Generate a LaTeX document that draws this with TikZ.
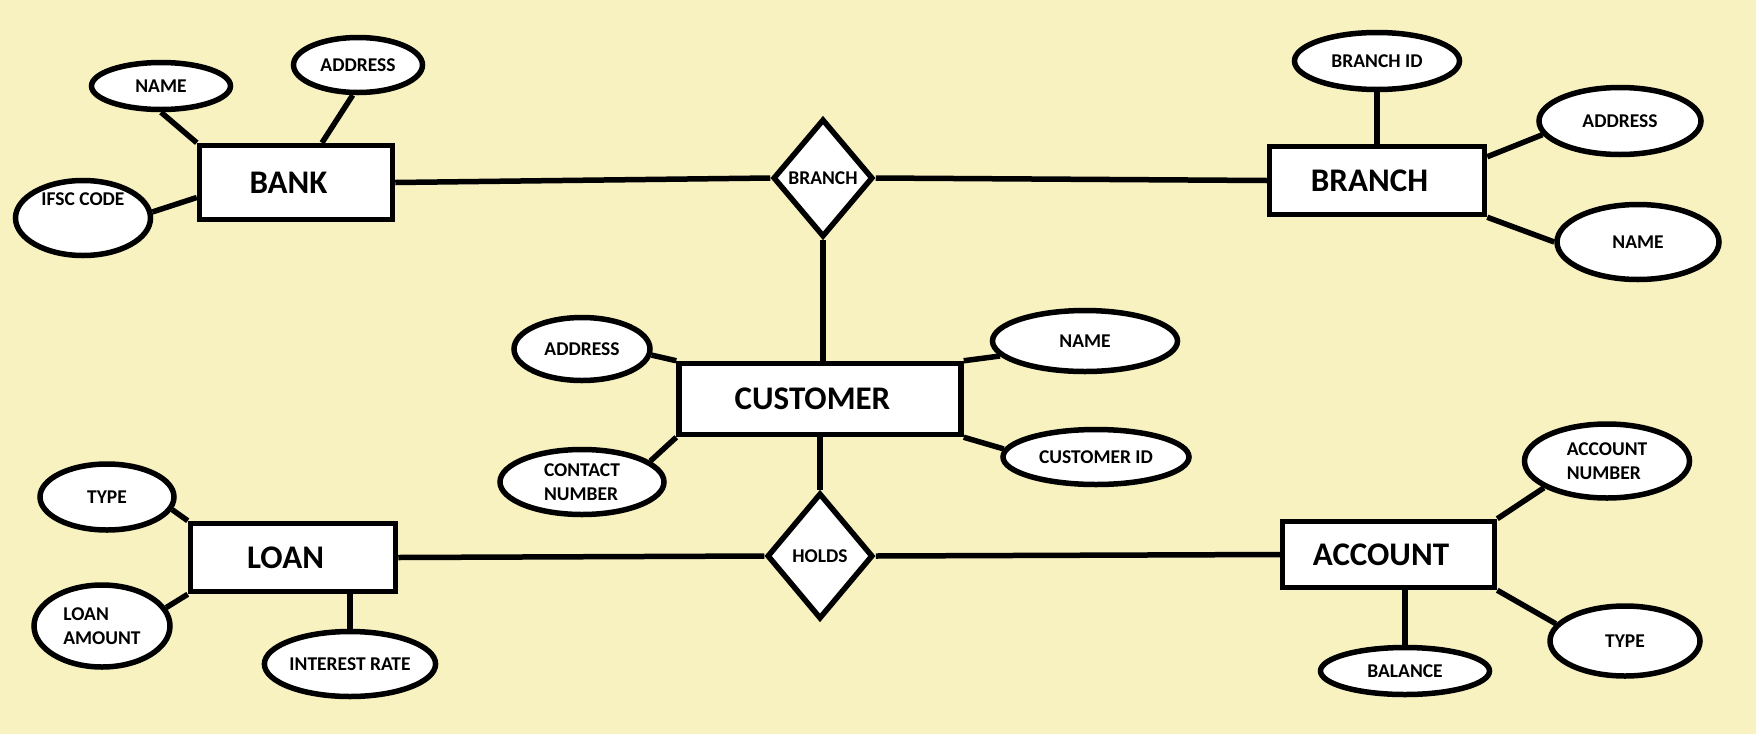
\documentclass[tikz,border=0pt]{standalone}
\usepackage{fontspec}
\setmainfont{Carlito}
\usetikzlibrary{shapes.geometric}
\definecolor{paper}{RGB}{248,242,192}

\tikzset{
  er/.style={line width=5.5pt, draw=black, fill=white, inner sep=0pt},
  entity/.style={er, rectangle, font=\fontsize{33}{40}\selectfont\bfseries,
                 execute at begin node=\hspace*{-15pt}},
  attr/.style={er, ellipse, font=\fontsize{19.5}{24}\selectfont\bfseries, align=left},
  rel/.style={er, diamond, font=\fontsize{19.5}{24}\selectfont\bfseries},
  link/.style={line width=5.5pt, draw=black},
}

\begin{document}
\begin{tikzpicture}[x=1pt, y=-1pt]
  \fill[paper] (0,0) rectangle (1756,734);
  \useasboundingbox (0,0) rectangle (1756,734);

  % entities
  \node[entity, minimum width=193pt, minimum height=74pt] (bank)   at (296,182.5) {BANK};
  \node[entity, minimum width=215pt, minimum height=68pt] (branch) at (1377,180.5) {BRANCH};
  \node[entity, minimum width=282pt, minimum height=71pt] (cust)   at (820,399) {CUSTOMER};
  \node[entity, minimum width=205pt, minimum height=68pt] (loan)   at (293,557.5) {LOAN};
  \node[entity, minimum width=212pt, minimum height=66pt] (acc)    at (1388.5,554.5) {ACCOUNT};

  % relationships
  \node[rel, minimum width=100pt, minimum height=118pt] (relbr) at (823,178) {BRANCH};
  \node[rel, minimum width=106pt, minimum height=126pt] (holds) at (820,556) {HOLDS};

  % attributes of BANK
  \node[attr, minimum width=139pt, minimum height=47pt] (bname) at (161,86) {NAME};
  \node[attr, minimum width=129pt, minimum height=55pt] (baddr) at (358,65) {ADDRESS};
  \node[attr, minimum width=135pt, minimum height=75pt,
        label={[font=\fontsize{19.5}{24}\selectfont\bfseries, yshift=19pt]center:IFSC CODE}] (ifsc) at (83,218) {};

  % attributes of BRANCH
  \node[attr, minimum width=165pt, minimum height=57pt] (brid)   at (1377,61) {BRANCH ID};
  \node[attr, minimum width=162pt, minimum height=67pt] (braddr) at (1620,121) {ADDRESS};
  \node[attr, minimum width=162pt, minimum height=75pt] (brname) at (1638,242) {NAME};

  % attributes of CUSTOMER
  \node[attr, minimum width=136pt, minimum height=63pt] (caddr)    at (582,349) {ADDRESS};
  \node[attr, minimum width=185pt, minimum height=61pt] (cname)    at (1085,341) {NAME};
  \node[attr, minimum width=186pt, minimum height=55pt] (cid)      at (1096,457) {CUSTOMER ID};
  \node[attr, minimum width=164pt, minimum height=65pt] (ccontact) at (582,482) {CONTACT\\NUMBER};

  % attributes of LOAN
  \node[attr, minimum width=134pt, minimum height=66pt] (ltype) at (107,497) {TYPE};
  \node[attr, minimum width=136pt, minimum height=82pt] (lamt)  at (102,626) {LOAN\\AMOUNT};
  \node[attr, minimum width=158pt, minimum height=65pt] (lint)  at (350,664) {INTEREST RATE};

  % attributes of ACCOUNT
  \node[attr, minimum width=165pt, minimum height=74pt] (accnum)  at (1607,461) {ACCOUNT\\NUMBER};
  \node[attr, minimum width=150pt, minimum height=70pt] (acctype) at (1625,641) {TYPE};
  \node[attr, minimum width=169pt, minimum height=47pt] (bal)     at (1405,671) {BALANCE};

  % relationship lines
  \draw[link] (bank.east) -- (relbr.west);
  \draw[link] (relbr.east) -- (branch.west);
  \draw[link] (relbr.south) -- (relbr.south |- cust.north);
  \draw[link] (cust.south) -- (holds.north);
  \draw[link] (loan.east) -- (holds.west);
  \draw[link] (holds.east) -- (acc.west);

  % attribute lines
  \draw[link] (bname.south) -- (bank.north west);
  \draw[link] (baddr.260) -- ([xshift=26pt]bank.north);
  \draw[link] (ifsc.5) -- ([yshift=-15pt]bank.west);

  \draw[link] (brid.south) -- (brid.south |- branch.north);
  \draw[link] (braddr.190) -- ([yshift=-13pt]branch.north east);
  \draw[link] (brname.west) -- (branch.south east);

  \draw[link] (caddr.355) -- (cust.north west);
  \draw[link] (cname.190) -- (cust.north east);
  \draw[link] (cid.175) -- (cust.south east);
  \draw[link] (ccontact.17) -- (cust.south west);

  \draw[link] (ltype.-11) -- (loan.north west);
  \draw[link] (lamt.16) -- (loan.south west);
  \draw[link] (lint.north) -- (lint.north |- loan.south);

  \draw[link] (accnum.203) -- (acc.north east);
  \draw[link] (acctype.166) -- (acc.south east);
  \draw[link] (bal.north) -- (bal.north |- acc.south);
\end{tikzpicture}
\end{document}
